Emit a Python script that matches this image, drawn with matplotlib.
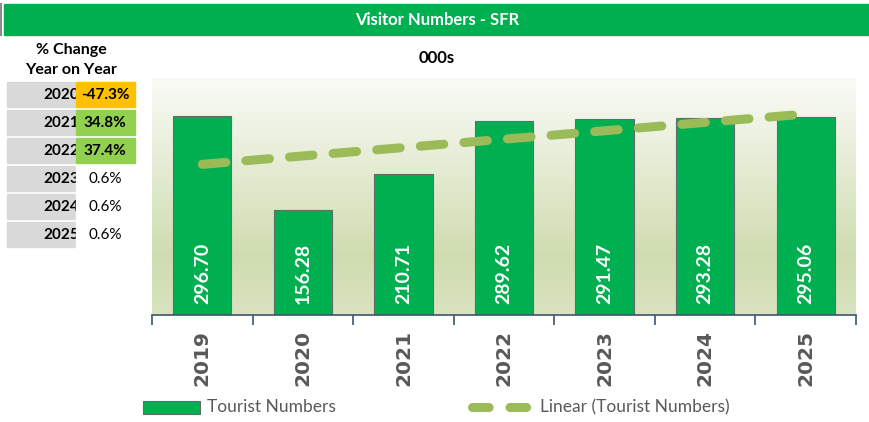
import matplotlib.pyplot as plt
import numpy as np
from matplotlib.colors import LinearSegmentedColormap
from matplotlib.patches import Rectangle
from matplotlib.lines import Line2D

plt.rcParams['font.family'] = ['Lato', 'DejaVu Sans']
plt.rcParams['lines.scale_dashes'] = False

# data
years = ['2019', '2020', '2021', '2022', '2023', '2024', '2025']
tourists = [296.70, 156.28, 210.71, 289.62, 291.47, 293.28, 295.06]
chg_years = ['2020', '2021', '2022', '2023', '2024', '2025']
chg_labels = ['-47.3%', '34.8%', '37.4%', '0.6%', '0.6%', '0.6%']
chg_colors = ['#FFC000', '#92D050', '#92D050', 'white', 'white', 'white']

W, H = 869, 422
fig = plt.figure(figsize=(W / 100, H / 100), dpi=100)
fig.patch.set_facecolor('white')

# main chart axes (pixel box 152..856 x 78..315)
ax = fig.add_axes([152 / W, (H - 315) / H, (856 - 152) / W, (315 - 78) / H])
x = np.arange(len(years))
ax.set_xlim(-0.5, len(years) - 0.5)
ax.set_ylim(0, 353)

# gradient background
grad = LinearSegmentedColormap.from_list('bg', [(0, '#D9E3C0'), (0.25, '#D0DCB0'),
                                                (0.7, '#E9EFDB'), (1, '#FAFBF7')])
ax.imshow(np.linspace(0, 1, 256).reshape(-1, 1), cmap=grad, origin='lower', aspect='auto',
          extent=(-0.5, len(years) - 0.5, 0, 353), zorder=0)

bars = ax.bar(x, tourists, width=0.58, color='#00B050', edgecolor='#5F6B6D', linewidth=0.8, zorder=2)
for xi, v in zip(x, tourists):
    ax.text(xi, 17, f'{v:.2f}', rotation=90, ha='center', va='bottom', color='white',
            fontsize=14, fontweight='bold', zorder=4)

# linear trendline
k, b = np.polyfit(x, tourists, 1)
ax.plot(x, k * x + b, color='#9BBB59', lw=6.5, linestyle=(0, (17, 14.5)),
        dash_capstyle='round', zorder=3)

for s in ['top', 'right', 'left']:
    ax.spines[s].set_visible(False)
ax.spines['bottom'].set_color('#3E5373')
ax.spines['bottom'].set_linewidth(1.2)
ax.set_yticks([])
ax.set_xticks(np.arange(-0.5, len(years), 1), minor=True)
ax.tick_params(axis='x', which='minor', length=7, color='#3E5373', width=1.2)
ax.set_xticks(x)
ax.set_xticklabels(years, rotation=90, fontsize=14.5, fontweight='bold', color='#595959',
                   family='DejaVu Sans')
ax.tick_params(axis='x', which='major', length=0, pad=11)

# overlay in pixel coords for title bar, table and legend
ov = fig.add_axes([0, 0, 1, 1], zorder=5)
ov.set_xlim(0, W)
ov.set_ylim(H, 0)
ov.axis('off')
ov.patch.set_alpha(0)

ov.add_patch(Rectangle((4, 4), W - 4, 31, color='#00B050'))
ov.plot([1, 1], [4, 35], color='#8C8C8C', lw=1.5)
ov.text(437, 20, 'Visitor Numbers - SFR', ha='center', va='center', color='white',
        fontsize=12, fontweight='bold')
ov.text(437, 58, '000s', ha='center', va='center', color='black', fontsize=12, fontweight='bold')

ov.text(71, 50, '% Change', ha='center', va='center', fontsize=11.5, fontweight='bold')
ov.text(71, 70, 'Year on Year', ha='center', va='center', fontsize=11.5, fontweight='bold')
for i, (yr, lab, c) in enumerate(zip(chg_years, chg_labels, chg_colors)):
    top = 82 + i * 28
    ov.add_patch(Rectangle((7, top), 68, 25, color='#D9D9D9', zorder=1))
    ov.text(79, top + 13, yr, ha='right', va='center', fontsize=11, fontweight='bold', zorder=2)
    ov.add_patch(Rectangle((75.5, top), 59.5, 25, color=c, zorder=3))
    ov.text(105, top + 13, lab, ha='center', va='center', fontsize=11,
            fontweight='bold' if c != 'white' else 'normal', zorder=4)

# legend
ov.add_patch(Rectangle((143, 401), 57, 13, facecolor='#00B050', edgecolor='#5F6B6D', lw=0.8))
ov.text(207, 407, 'Tourist Numbers', ha='left', va='center', fontsize=12.5, color='#595959')
ov.add_line(Line2D([472, 530], [407, 407], color='#9BBB59', lw=6.5,
                   linestyle=(0, (12, 15)), dash_capstyle='round'))
ov.text(540, 407, 'Linear (Tourist Numbers)', ha='left', va='center', fontsize=12.5, color='#595959')

fig.savefig('out.png', dpi=100)
